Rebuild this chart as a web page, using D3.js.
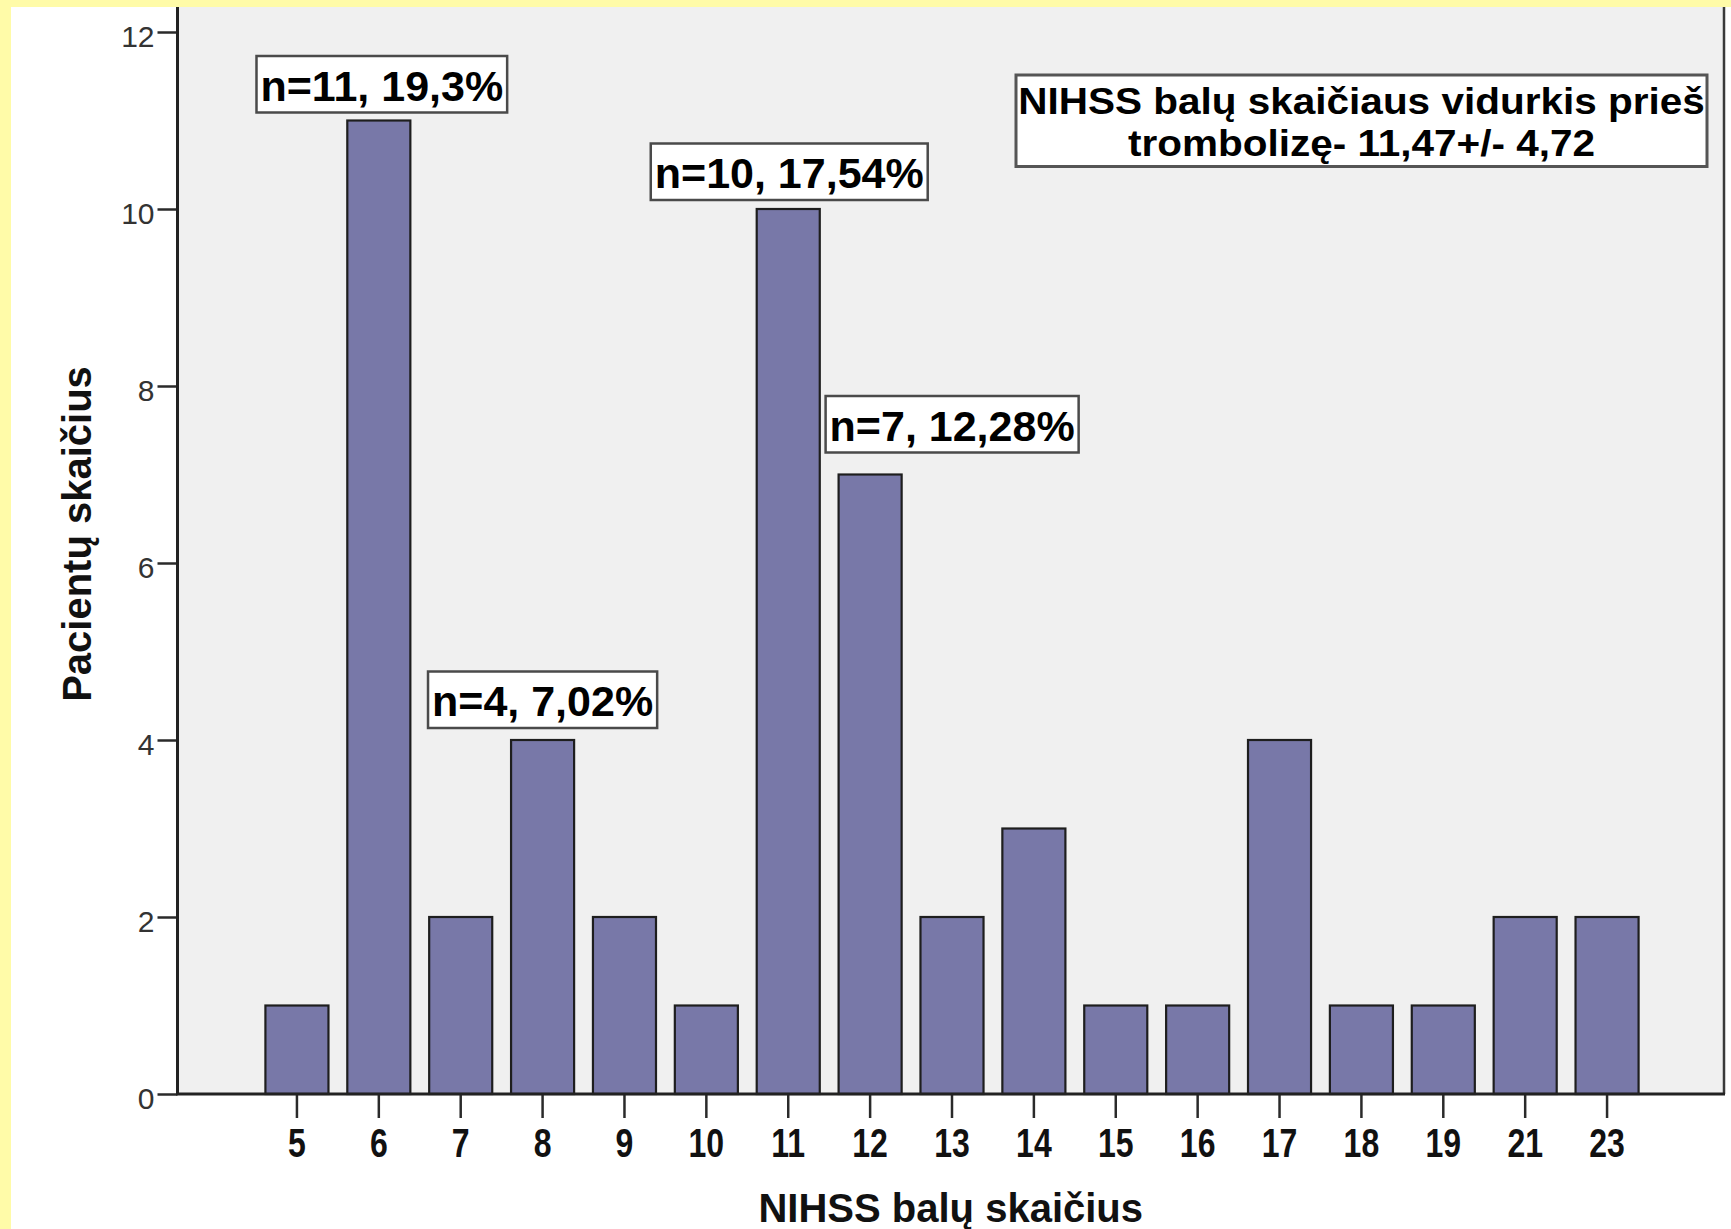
<!DOCTYPE html>
<html><head><meta charset="utf-8">
<script src="https://cdn.jsdelivr.net/npm/d3@7"></script>
<style>
html,body{margin:0;padding:0;background:#ffffff;}
svg{display:block;}
text{font-family:"Liberation Sans",Arial,Helvetica,sans-serif;}
</style></head><body>
<svg id="chart" width="1731" height="1229"></svg>
<script>
// ---- data ----
const categories = ["5","6","7","8","9","10","11","12","13","14","15","16","17","18","19","21","23"];
const counts     = [1, 11, 2, 4, 2, 1, 10, 7, 2, 3, 1, 1, 4, 1, 1, 2, 2];
const yTicks     = [0, 2, 4, 6, 8, 10, 12];
const annotCats  = ["6", "8", "11", "12"];
const annotTexts = ["n=11, 19,3%", "n=4, 7,02%", "n=10, 17,54%", "n=7, 12,28%"];
const meanLines  = ["NIHSS balų skaičiaus vidurkis prieš", "trombolizę- 11,47+/- 4,72"];
const xTitle = "NIHSS balų skaičius";
const yTitle = "Pacientų skaičius";

// ---- layout ----
const W = 1731, H = 1229;
const plot = {left: 177.5, right: 1724, top: 7, bottom: 1094};
const annotDx  = [3, 0, 1, 82];
const annotGap = [8, 12, 9, 22];

const svg = d3.select("#chart");
svg.append("rect").attr("x",0).attr("y",0).attr("width",W).attr("height",H).attr("fill","#fffba8");
svg.append("rect").attr("x",11).attr("y",7).attr("width",W-11).attr("height",H-7).attr("fill","#ffffff");

const x = d3.scaleBand().domain(categories).range([256, 1648]).paddingInner(0.23).paddingOuter(0.115);
const y = d3.scaleLinear().domain([0, 12]).range([plot.bottom, 32]);

// plot background
svg.append("rect").attr("x",plot.left).attr("y",plot.top)
  .attr("width",plot.right-plot.left).attr("height",plot.bottom-plot.top).attr("fill","#f0f0f0");

// bars
const data = categories.map((c,i)=>({c, v:counts[i]}));
svg.append("g").selectAll("rect").data(data).join("rect")
  .attr("x", d=>x(d.c)).attr("width", x.bandwidth())
  .attr("y", d=>y(d.v)).attr("height", d=>y(0)-y(d.v))
  .attr("fill","#7878a8").attr("stroke","#1e1e1e").attr("stroke-width",2.2);

// right border
svg.append("line").attr("x1",plot.right).attr("x2",plot.right).attr("y1",plot.top).attr("y2",plot.bottom)
  .attr("stroke","#3a3a3a").attr("stroke-width",2.5);

// y axis
const gy = svg.append("g").attr("transform",`translate(${plot.left},0)`)
  .call(d3.axisLeft(y).tickValues(yTicks).tickSize(20).tickSizeOuter(0).tickPadding(3));
gy.select(".domain").remove();
gy.selectAll(".tick line").attr("stroke","#2a2a2a").attr("stroke-width",2.5);
gy.selectAll(".tick text").attr("font-size",30).attr("fill","#333").attr("y",5)
  .style("font-family",'"Liberation Sans",Arial,sans-serif');
svg.append("line").attr("x1",plot.left).attr("x2",plot.left).attr("y1",plot.top).attr("y2",plot.bottom)
  .attr("stroke","#222").attr("stroke-width",3);

// x axis
const gx = svg.append("g").attr("transform",`translate(0,${plot.bottom})`)
  .call(d3.axisBottom(x).tickSize(24).tickSizeOuter(0));
gx.select(".domain").remove();
gx.selectAll(".tick line").attr("stroke","#2a2a2a").attr("stroke-width",2.5);
gx.selectAll(".tick text").attr("font-size",40).attr("font-weight","bold").attr("fill","#111")
  .attr("y",63).attr("dy",0).attr("transform","scale(0.8,1)")
  .style("font-family",'"Liberation Sans",Arial,sans-serif');
svg.append("line").attr("x1",plot.left-1.5).attr("x2",plot.right+1).attr("y1",plot.bottom).attr("y2",plot.bottom)
  .attr("stroke","#222").attr("stroke-width",3);

// annotations
annotCats.forEach((c,i)=>{
  const v = counts[categories.indexOf(c)];
  const cx = x(c) + x.bandwidth()/2 + annotDx[i];
  const bottom = y(v) - annotGap[i];
  const top = bottom - 56.5;
  const g = svg.append("g");
  const r = g.append("rect");
  const t = g.append("text").attr("x",cx).attr("y",top+44.5).attr("text-anchor","middle")
    .attr("font-size",43).attr("font-weight","bold").attr("fill","#000").text(annotTexts[i]);
  const w = t.node().getComputedTextLength();
  r.attr("x",cx-w/2-4).attr("y",top).attr("width",w+8).attr("height",56.5)
    .attr("fill","#fff").attr("stroke","#4a4a4a").attr("stroke-width",2.5);
});

// mean box
const mb = {x1:1016, x2:1707, y1:75, y2:166.5};
svg.append("rect").attr("x",mb.x1).attr("y",mb.y1).attr("width",mb.x2-mb.x1).attr("height",mb.y2-mb.y1)
  .attr("fill","#fff").attr("stroke","#555").attr("stroke-width",3);
const meanBase = [114, 156];
meanLines.forEach((s,i)=>{
  const t = svg.append("text").attr("x",(mb.x1+mb.x2)/2).attr("y",meanBase[i]).attr("text-anchor","middle")
    .attr("font-size",37.5).attr("font-weight","bold").attr("fill","#000").text(s);
  const w = t.node().getComputedTextLength();
  t.attr("textLength", w*1.08).attr("lengthAdjust","spacingAndGlyphs");
});

// titles
svg.append("text").attr("x",(plot.left+plot.right)/2).attr("y",1222).attr("text-anchor","middle")
  .attr("font-size",40).attr("font-weight","bold").attr("fill","#111").text(xTitle);
svg.append("text").attr("transform","translate(91,534) rotate(-90)").attr("text-anchor","middle")
  .attr("font-size",40).attr("font-weight","bold").attr("fill","#111").text(yTitle);
</script>
</body></html>
